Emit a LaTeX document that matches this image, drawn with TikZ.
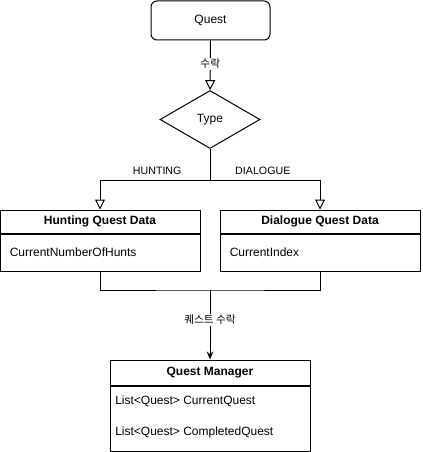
\documentclass[tikz,border=0pt]{standalone}
\usepackage{fontspec}
\setmainfont{Liberation Sans}
\newfontfamily\kor{Noto Sans CJK KR}
\usetikzlibrary{shapes.geometric, arrows.meta, positioning}

\begin{document}
\begin{tikzpicture}[x=0.75pt,y=-0.75pt]

    \tikzset{
      line/.style={line width=0.75pt},
      box/.style={draw, line, fill=white, minimum width=150pt, inner sep=0pt, font=\fontsize{9}{11}\selectfont},
      head/.style={box, minimum height=17.25pt, font=\fontsize{9}{11}\selectfont\bfseries},
      body/.style={box, minimum height=27.75pt},
      attr/.style={anchor=west, inner sep=0pt, font=\fontsize{9}{11}\selectfont},
      lbl/.style={fill=white, inner sep=1pt, font=\fontsize{8}{10}\selectfont},
      openarrow/.style={-{Triangle[open, length=7.5pt, width=7.5pt]}}
    }
    \useasboundingbox (0,0) rectangle (422,452);

    % start and type check
    \node[draw, line, rounded corners=4.5pt, minimum width=89.25pt, minimum height=29.25pt, font=\fontsize{9}{11}\selectfont] (quest) at (210.5,20.5) {Quest};
    \node[draw, line, diamond, aspect=1.72, inner sep=0pt, minimum width=75pt, minimum height=43.5pt, font=\fontsize{9}{11}\selectfont] (type) at (210,119.5) {Type};
    \coordinate (split) at (210,180);

    % quest data classes
    \node[head] (hunthead) at (100,221.5) {Hunting Quest Data};
    \node[body, below=0pt of hunthead] (huntbody) {};
    \node[attr, right=7.5pt of huntbody.west] (huntcount) {CurrentNumberOfHunts};

    \node[head] (dlghead) at (320,221.5) {Dialogue Quest Data};
    \node[body, below=0pt of dlghead] (dlgbody) {};
    \node[attr, right=7.5pt of dlgbody.west] (dlgindex) {CurrentIndex};

    \coordinate (merge) at (210,290);

    % manager
    \node[head, minimum height=18.75pt] (mgrhead) at (210,372.5) {Quest Manager};
    \node[body, minimum height=48.75pt, below=0pt of mgrhead] (mgrbody) {};
    \node[attr] (mgrcur) at (115,401) {List<Quest> CurrentQuest};
    \node[attr] (mgrdone) at (115,432) {List<Quest> CompletedQuest};

    \draw[line, openarrow] (quest) -- node[lbl, pos=0.47] (acceptlbl) {\kor 수락} (type);
    \draw[line] (type) -- (split);
    \draw[line, openarrow] (split) -| node[lbl, pos=0.24, above=3.5pt, fill=none, inner sep=0pt] (huntlbl) {HUNTING} (hunthead);
    \draw[line, openarrow] (split) -| node[lbl, pos=0.24, above=3.5pt, fill=none, inner sep=0pt] (dlglbl) {DIALOGUE} (dlghead);

    \draw[line] (huntbody) |- (merge) -| (dlgbody);
    \draw[line, -{Stealth[length=6pt, width=5pt]}] (merge) -- node[lbl, pos=0.43] (questacceptlbl) {\kor 퀘스트 수락} (mgrhead);

\end{tikzpicture}
\end{document}
